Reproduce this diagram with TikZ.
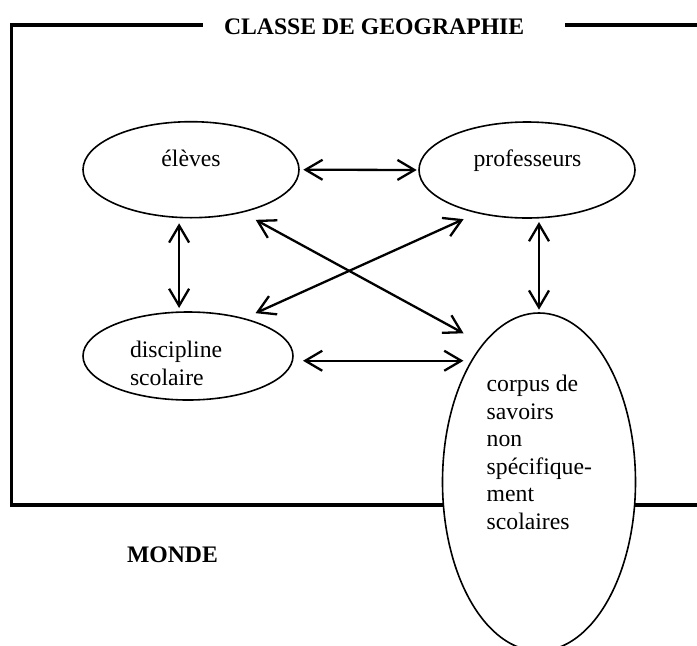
\documentclass[tikz,border=0pt]{standalone}
\usepackage{fontspec}
\setmainfont{Liberation Serif}
\usetikzlibrary{shapes.geometric,arrows.meta}
\begin{document}
\begin{tikzpicture}[x=1pt,y=-1pt,
  every node/.style={font=\fontsize{23.7}{27.5}\selectfont, inner sep=0pt, outer sep=0pt},
  oval/.style={draw, ellipse, line width=1.6pt, fill=white},
  frameline/.style={line width=3.8pt},
  barb/.style={line width=2.3pt, {Straight Barb[length=17pt,width=20pt]}-{Straight Barb[length=17pt,width=20pt]}},
  boldlbl/.style={anchor=base west, font=\fontsize{23.7}{27.5}\selectfont\bfseries},
  multi/.style={anchor=base west, align=left}]
\useasboundingbox (0,0) rectangle (697,646);
% frame (classe)
\draw[frameline] (202.7,25) -- (11.5,25) -- (11.5,505) -- (697,505);
\draw[frameline] (565,25) -- (697,25);
\node[boldlbl] (title) at (224,34) {CLASSE DE GEOGRAPHIE};
\node[boldlbl] (monde) at (127,562.7) {MONDE};
% ellipses
\node[oval, minimum width=216pt, minimum height=96pt] (eleves) at (191,169.7) {};
\node[oval, minimum width=216pt, minimum height=96pt] (prof) at (527,170) {};
\node[oval, minimum width=210pt, minimum height=88pt] (disc) at (188,356) {};
\node[oval, minimum width=193pt, minimum height=338pt] (corpus) at (539,482) {};
% texts (multi-line nodes anchored at the baseline of their last line)
\node[anchor=base] (elevesT) at (191,166.7) {élèves};
\node[anchor=base] (profT) at (527.5,166.7) {professeurs};
\node[multi] (discT) at (130,385) {discipline\\scolaire};
\node[multi] (corpusT) at (486.7,529.3) {corpus de\\savoirs\\non\\spécifique-\\ment\\scolaires};
% connectors
\draw[barb, shorten <=4.3pt, shorten >=2.3pt] (eleves.east) -- (prof.west);
\draw[barb, shorten <=5.9pt, shorten >=4pt] (eleves.-104.9) -- (eleves.-104.9 |- disc.north);
\draw[barb, shorten <=4pt, shorten >=3.3pt] (corpus.north |- prof.south) -- (corpus.north);
\draw[barb, shorten <=10pt, shorten >=8.3pt] (disc.east |- corpus.119.1) -- (corpus.119.1);
\draw[barb, shorten <=16.1pt, shorten >=22.45pt] (eleves.-40.47) -- (corpus.112.31);
\draw[barb, shorten <=13.3pt, shorten >=15.57pt] (disc.34.36) -- (prof.-139.47);
\end{tikzpicture}
\end{document}
